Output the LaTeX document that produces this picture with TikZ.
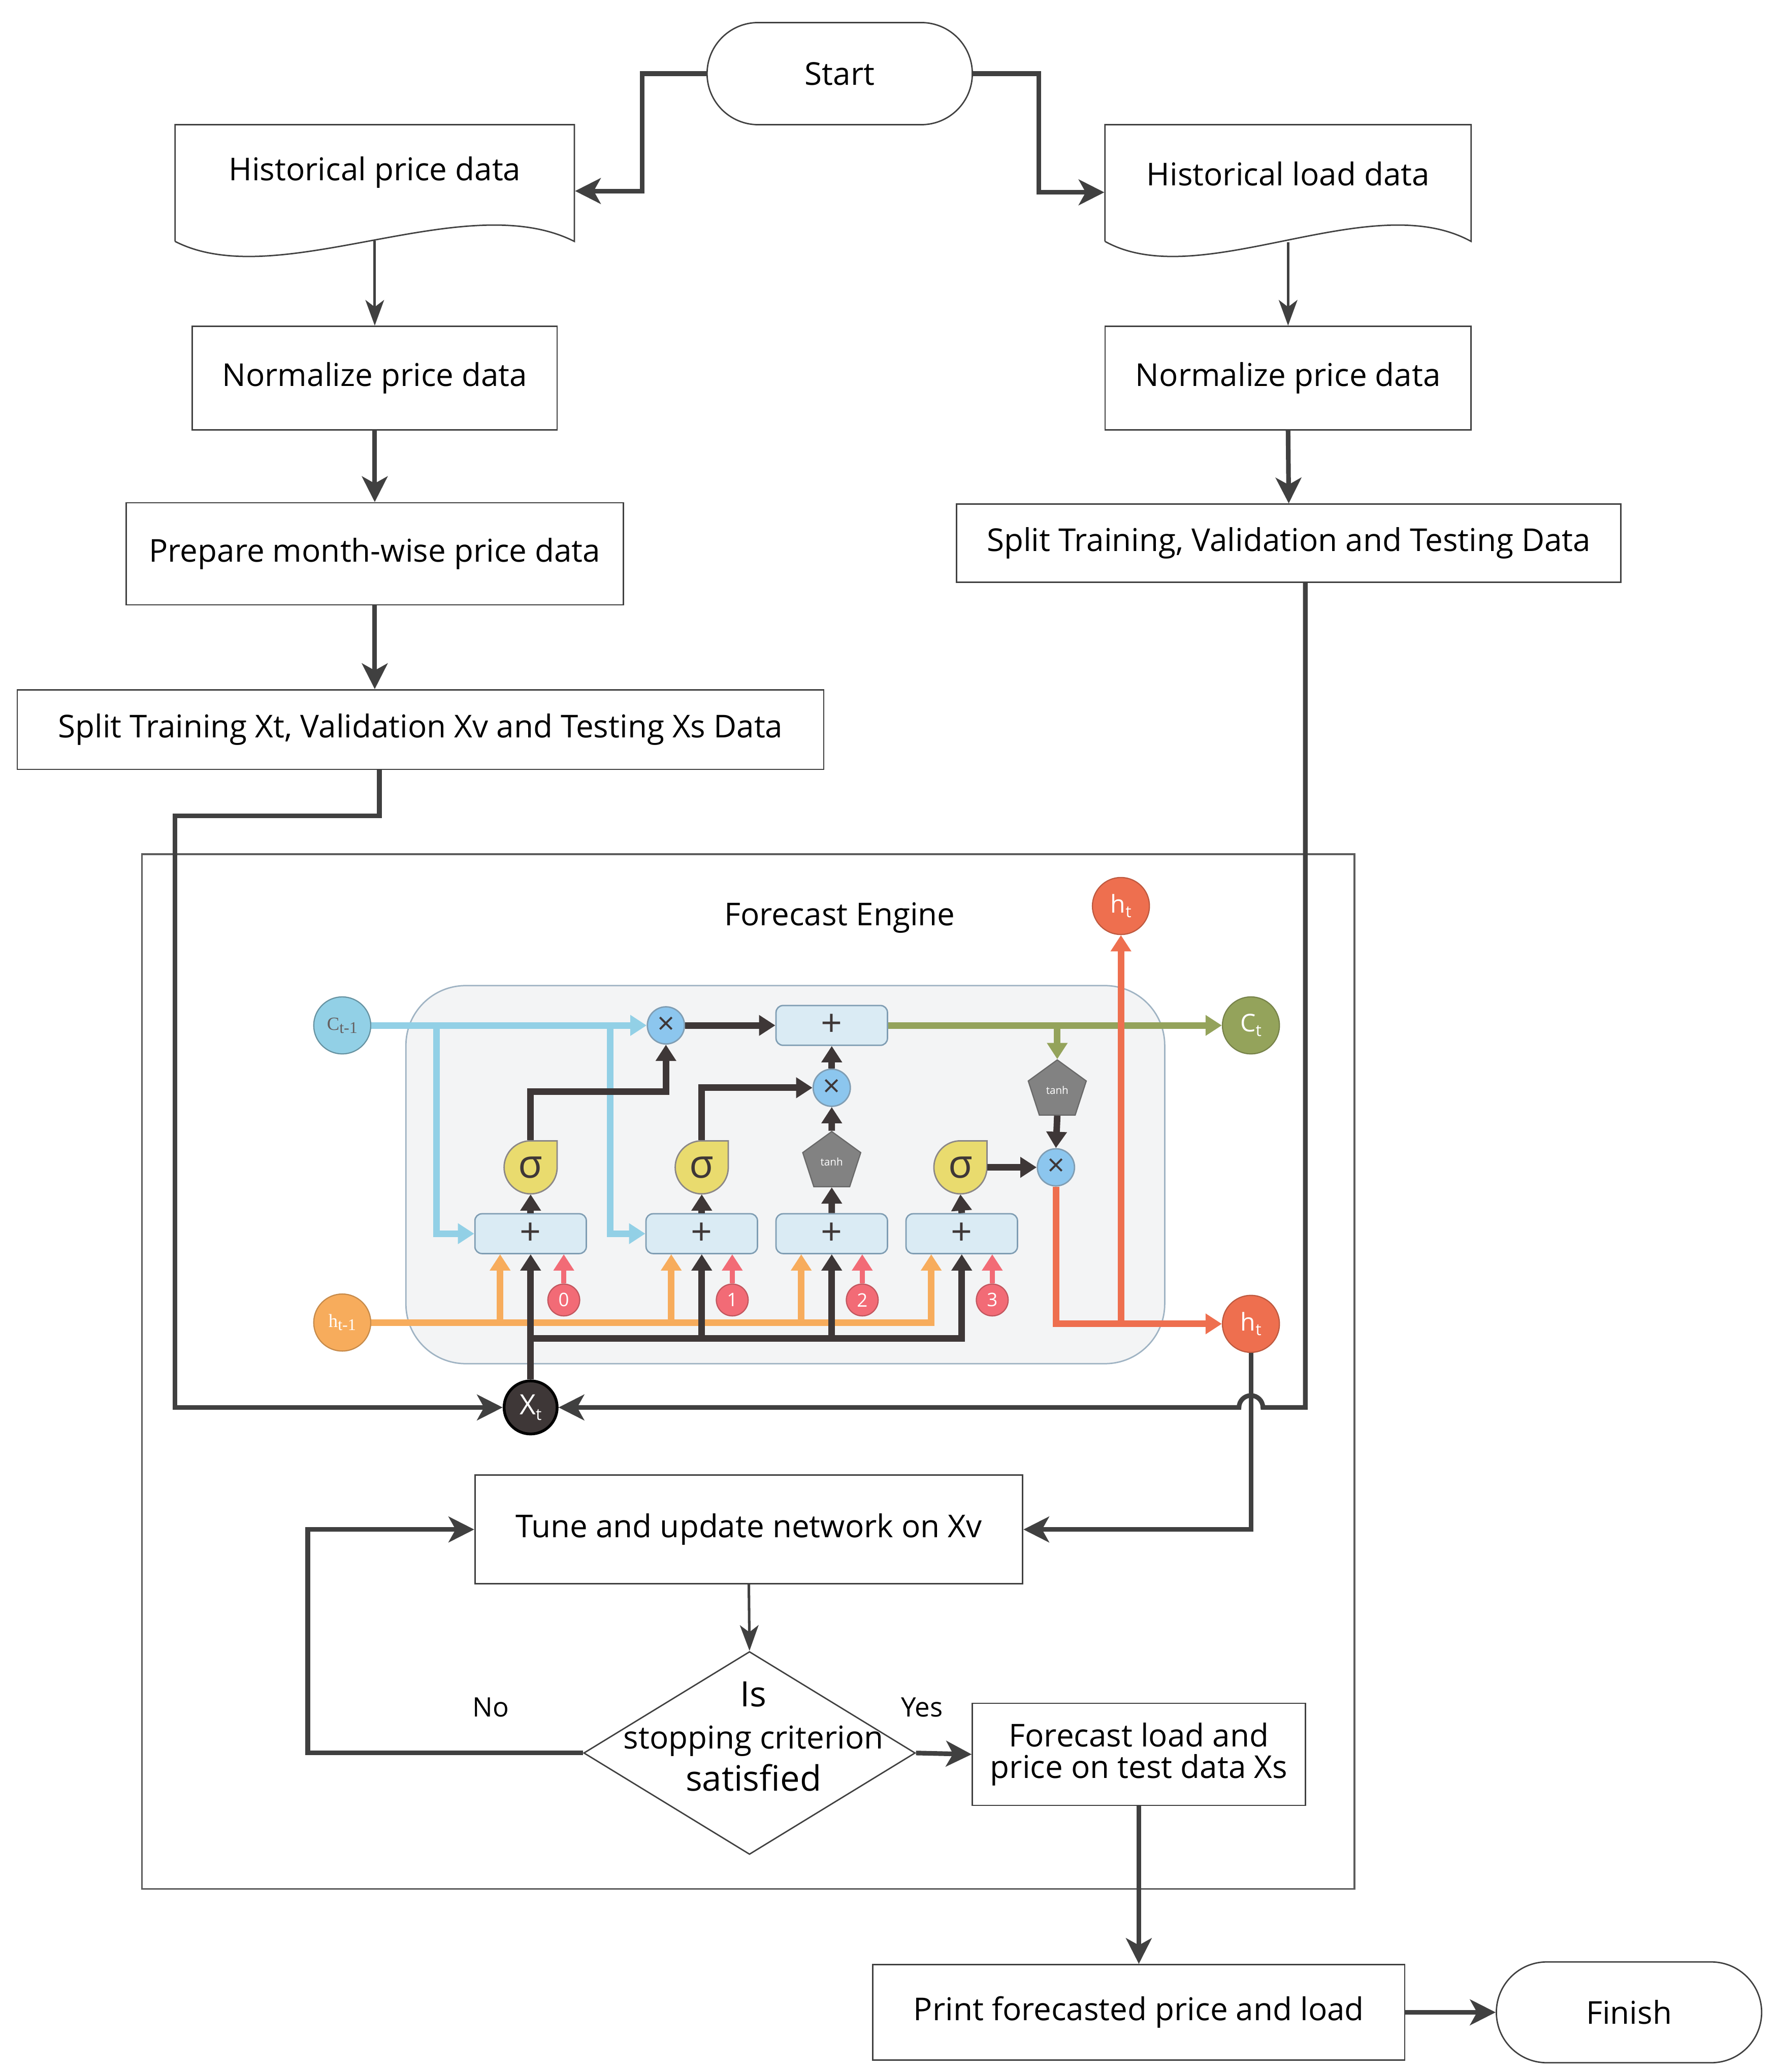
\documentclass[tikz,border=0pt]{standalone}
\usepackage{fontspec}
\setmainfont{Open Sans}
\newfontfamily\lblfont{Liberation Serif}
\usetikzlibrary{arrows.meta,shapes.geometric}

\definecolor{linegray}{HTML}{404040}
\definecolor{cellbg}{HTML}{F3F4F5}
\definecolor{cellborder}{HTML}{9FB3C3}
\definecolor{plusfill}{HTML}{DAEBF4}
\definecolor{plusborder}{HTML}{7F9DB3}
\definecolor{multfill}{HTML}{8CC6EE}
\definecolor{sigfill}{HTML}{E9DB6E}
\definecolor{tanhfill}{HTML}{828282}
\definecolor{cblue}{HTML}{92D0E6}
\definecolor{horange}{HTML}{F7AC5C}
\definecolor{cgreen}{HTML}{94A35B}
\definecolor{hred}{HTML}{EE6F4F}
\definecolor{bpink}{HTML}{F26B76}
\definecolor{darkarrow}{HTML}{3E3737}

\newcommand{\idx}[1]{\raisebox{-0.35ex}{\fontsize{7}{7}\selectfont #1}}
\newcommand{\sigmagate}[3]{%
  \filldraw[fill=sigfill,draw=darkarrow!60,line width=0.6pt] (#2,#3) ++(20,0)
    arc[start angle=0,end angle=-270,radius=0.4cm] -- ++(20,0) -- cycle;
  \node[signode] (#1) at (#2,#3) {σ};}

\tikzset{
  procbox/.style={draw=linegray,line width=0.6pt,inner sep=0pt,align=center,
    font=\fontsize{13.5}{16}\selectfont},
  flowline/.style={draw=linegray,line width=2pt,-{Stealth[length=11pt,width=11pt,inset=3pt]}},
  thinline/.style={draw=linegray,line width=1.1pt,-{Stealth[length=11pt,width=8pt,inset=3pt]}},
  cellarrow/.style={line width=2.8pt,-{Triangle[length=7pt,width=8.5pt]}},
  plusbox/.style={draw=plusborder,fill=plusfill,rounded corners=3pt,minimum width=1.68cm,
    minimum height=0.6cm,inner sep=0pt,line width=0.6pt,text=darkarrow,
    font=\fontsize{16}{16}\selectfont},
  mult/.style={circle,draw=plusborder,fill=multfill,minimum size=0.56cm,inner sep=0pt,
    line width=0.6pt,text=darkarrow,font=\fontsize{13}{13}\selectfont},
  signode/.style={circle,minimum size=0.8cm,inner sep=0pt,text=darkarrow,
    font=\fontsize{17}{17}\selectfont},
  tanhgate/.style={regular polygon,regular polygon sides=5,minimum size=0.92cm,inner sep=0pt,
    fill=tanhfill,draw=tanhfill!80!black,line width=0.5pt,text=white,
    font=\fontsize{4.5}{5}\selectfont},
  bias/.style={circle,fill=bpink,draw=bpink!80!black,minimum size=0.48cm,inner sep=0pt,
    line width=0.5pt,text=white,font=\fontsize{8}{8}\selectfont},
  vecnode/.style={circle,minimum size=0.86cm,inner sep=0pt,line width=0.5pt,
    font=\fontsize{10.5}{10.5}\selectfont},
}

\begin{document}
\begin{tikzpicture}[x=0.02cm,y=-0.02cm]
\useasboundingbox (0,0) rectangle (1340,1562);

% data preparation
\node[procbox,rounded corners=0.77cm,minimum width=4cm,minimum height=1.54cm] (st) at (633,55.5) {Start};
\draw[linegray,line width=0.6pt] (132,182) -- (132,94) -- (433,94) -- (433,182)
  .. controls (350,140) and (210,222) .. (132,182);
\node[procbox,draw=none,minimum width=6.02cm,minimum height=1.44cm] (hp) at (282.5,130) {Historical price data};
\draw[linegray,line width=0.6pt] (833,182) -- (833,94) -- (1109,94) -- (1109,182)
  .. controls (1033,140) and (905,222) .. (833,182);
\node[procbox,draw=none,minimum width=5.52cm,minimum height=1.44cm] (hl) at (971,131) {Historical load data};
\node[procbox,minimum width=5.5cm,minimum height=1.56cm] (np) at (282.5,285) {Normalize price data};
\node[procbox,minimum width=5.52cm,minimum height=1.56cm] (nl) at (971,285) {Normalize price data};
\node[procbox,minimum width=7.5cm,minimum height=1.54cm] (mp) at (282.5,417.5) {Prepare month-wise price data};
\node[procbox,minimum width=12.16cm,minimum height=1.2cm] (sl) at (317,550) {Split Training Xt, Validation Xv and Testing Xs Data};
\node[procbox,minimum width=10.02cm,minimum height=1.18cm] (sr) at (971.5,409.5) {Split Training, Validation and Testing Data};

\draw[flowline] (st.west) -- (484,55.5) |- ([yshift=-0.28cm]hp.east);
\draw[flowline] (st.east) -- (783,55.5) |- ([yshift=-0.28cm]hl.west);
\draw[thinline] ([yshift=-0.3cm]hp.south) -- (np.north);
\draw[thinline] ([yshift=-0.3cm]hl.south) -- (nl.north);
\draw[flowline] (np.south) -- (mp.north);
\draw[flowline] (nl.south) -- (sr.north);
\draw[flowline] (mp.south) -- (mp.south |- sl.north);

% forecast engine
\draw[linegray!85,line width=0.8pt] (107,644) rectangle (1021,1424);
\node[font=\fontsize{13.5}{16}\selectfont] (fe) at (633,692) {Forecast Engine};
\draw[cellborder,fill=cellbg,rounded corners=0.9cm,line width=0.6pt] (306,743) rectangle (878,1028);

\node[vecnode,fill=cblue,draw=cblue!70!black] (ctm) at (258,773) {\lblfont\fontsize{8}{8}\selectfont\color{darkarrow!80}C\idx{t-1}};
\node[vecnode,fill=horange,draw=horange!80!black] (htm) at (258,997) {\lblfont\fontsize{8}{8}\selectfont\color{white}h\idx{t-1}};
\node[vecnode,fill=cgreen,draw=cgreen!80!black,text=white] (ct) at (943,773) {C\idx{t}};
\node[vecnode,fill=hred,draw=hred!80!black,text=white] (ht) at (943,998) {h\idx{t}};
\node[vecnode,fill=hred,draw=hred!80!black,text=white] (htop) at (845,683) {h\idx{t}};
\node[circle,minimum size=0.8cm,inner sep=0pt,fill=darkarrow,draw=black,line width=1.2pt,
  text=white,font=\fontsize{12}{12}\selectfont] (Xt) at (400,1061) {X\idx{t}};

\node[mult] (fx) at (502,773) {×};
\node[plusbox] (tp) at (627,773) {+};
\node[mult] (ix) at (627,820) {×};
\sigmagate{s1}{400}{880}
\sigmagate{s2}{529}{880}
\node[tanhgate] (th1) at (627,876) {tanh};
\sigmagate{s3}{724}{880}
\node[tanhgate] (th2) at (797,822) {tanh};
\node[mult] (ox) at (796,880) {×};
\foreach \n/\x in {1/400,2/529,3/627,4/725}
  \node[plusbox] (b\n) at (\x,930) {+};
\foreach \n/\x in {0/425,1/552,2/650,3/748}
  \node[bias] (c\n) at (\x,980) {\n};

% cell state and hidden state inputs
\coordinate (cb1) at (329,773);
\coordinate (cb2) at (460,773);
\draw[cellarrow,cblue] (ctm) -- (fx);
\draw[cellarrow,cblue] (cb1) |- (b1.west);
\draw[cellarrow,cblue] (cb2) |- (b2.west);
\draw[cellarrow,horange] (htm) -| ([xshift=-0.46cm]b4.south);
\foreach \b in {b1,b2,b3}
  \draw[cellarrow,horange] ([xshift=-0.46cm]\b.south |- htm) -- ([xshift=-0.46cm]\b.south);
\foreach \n/\b in {0/b1,1/b2,2/b3,3/b4}
  \draw[cellarrow,bpink,line width=2.2pt] (c\n) -- (c\n |- \b.south);
\coordinate (xin) at (400,1009);
\draw[cellarrow,darkarrow] (Xt) -- (b1.south);
\draw[cellarrow,darkarrow] (xin) -| (b4.south);
\foreach \b in {b2,b3}
  \draw[cellarrow,darkarrow] (xin -| \b.south) -- (\b.south);

% gates
\foreach \b/\g in {b1/s1,b2/s2,b3/th1,b4/s3}
  \draw[cellarrow,darkarrow] (\b.north) -- (\g.south);
\draw[cellarrow,darkarrow] (s1.north) -- (400,823) -| (fx.south);
\draw[cellarrow,darkarrow] (s2.north) |- (ix.west);
\draw[cellarrow,darkarrow] (th1.north) -- (ix.south);
\draw[cellarrow,darkarrow] (ix.north) -- (tp.south);
\draw[cellarrow,darkarrow] (fx.east) -- (tp.west);
\draw[cellarrow,darkarrow] (th2.south) -- (ox.north);
\draw[cellarrow,darkarrow] (s3.east) -- (ox.west);
\draw[cellarrow,cgreen] (tp.east) -- (ct.west);
\draw[cellarrow,cgreen] (th2.north |- tp.east) -- (th2.north);
\draw[cellarrow,hred] (ox.south) |- (ht.west);
\draw[cellarrow,hred] (htop.south |- ht.west) -- (htop.south);

% inputs to the engine
\draw[flowline] ([xshift=-0.62cm]sl.south) |- (132,615) |- (Xt.west);
\draw[flowline] ([xshift=0.25cm]sr.south) |- (952,1061)
  arc[start angle=0,end angle=180,radius=0.18cm] -- (Xt.east);

% training loop
\node[procbox,minimum width=8.26cm,minimum height=1.64cm] (tune) at (564.5,1153) {Tune and update network on Xv};
\node[procbox,diamond,minimum width=5cm,minimum height=3.06cm] (dm) at (565,1321.5) {};
\node[align=center,font=\fontsize{13.5}{18}\selectfont] (dmtext) at (568,1309)
  {{\fontsize{15}{18}\selectfont Is}\\stopping criterion\\{\fontsize{15}{18}\selectfont satisfied}};
\node[procbox,minimum width=5.02cm,minimum height=1.54cm,font=\fontsize{13.5}{13.5}\selectfont] (fc) at (858.5,1322.5) {Forecast load and\\price on test data Xs};
\node[font=\fontsize{11.5}{14}\selectfont] (no) at (370,1287) {No};
\node[font=\fontsize{11.5}{14}\selectfont] (yes) at (695,1287) {Yes};
\draw[flowline] (ht.south) |- (tune.east);
\draw[thinline] (tune.south) -- (dm.north);
\draw[flowline] (dm.east) -- (fc.west);
\draw[flowline] (dm.west) -- (232,1321.5) |- (tune.west);

% output
\node[procbox,minimum width=8.02cm,minimum height=1.44cm] (pr) at (858.5,1517) {Print forecasted price and load};
\node[procbox,rounded corners=0.76cm,minimum width=4cm,minimum height=1.52cm] (fin) at (1228,1517) {Finish};
\draw[flowline] (fc.south) -- (pr.north);
\draw[flowline] (pr.east) -- (fin.west);
\end{tikzpicture}
\end{document}
